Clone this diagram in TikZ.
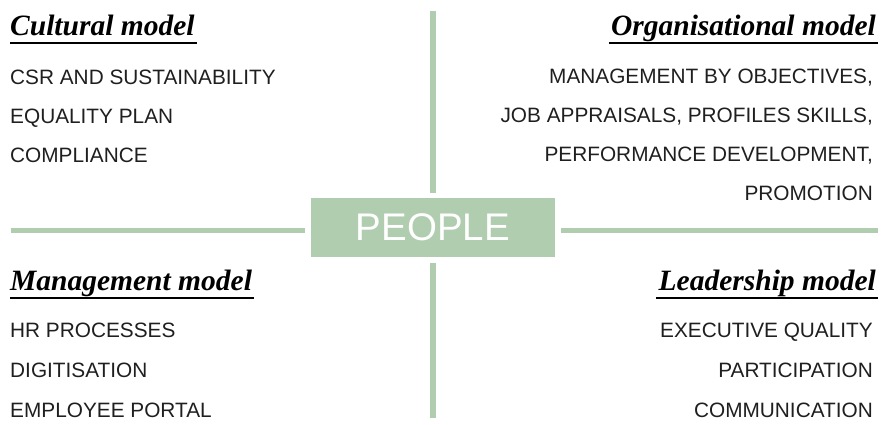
\documentclass[tikz,border=0pt]{standalone}
\usepackage{fontspec}
\setmainfont{Liberation Sans}
\newfontfamily\titlefont{Liberation Serif}
\usetikzlibrary{positioning}
\definecolor{sage}{HTML}{B0CDB0}

\begin{document}
\begin{tikzpicture}[x=1pt,y=-1pt,
  title/.style={inner sep=0pt,font=\titlefont\bfseries\itshape\fontsize{29.5}{29.5}\selectfont},
  item/.style={inner sep=0pt,text=black!88,font=\fontsize{20.8}{20.8}\selectfont},
  bar/.style={draw=sage,line width=5.5pt},
  uline/.style={draw=black,line width=1.6pt}]
\useasboundingbox (0,0) rectangle (885,424);

\node[fill=sage,minimum width=244pt,minimum height=59pt,inner sep=0pt,
  text=white,font=\fontsize{38.5}{38.5}\selectfont](people) at (433,227.5) {PEOPLE};

\coordinate (top) at (433,11);
\coordinate (bot) at (433,418);
\coordinate (left) at (11,230.5);
\coordinate (right) at (878,230.5);

\draw[bar,shorten >=5pt] (top) -- (people);
\draw[bar,shorten >=6pt] (bot) -- (people);
\draw[bar,shorten >=6pt] (left) -- (left -| people.west);
\draw[bar,shorten >=6pt] (right) -- (right -| people.east);

% cultural model
\node[title,anchor=base west](cult) at (10,35) {Cultural model};
\draw[uline] ([yshift=-8pt]cult.base west) -- ([yshift=-8pt,xshift=2pt]cult.base east);
\node[item,anchor=base west](c1) at (10,84) {CSR AND SUSTAINABILITY};
\node[item,anchor=base west](c2) at (10,123) {EQUALITY PLAN};
\node[item,anchor=base west](c3) at (10,162) {COMPLIANCE};

% organisational model
\node[title,anchor=base east](org) at (876,35) {Organisational model};
\draw[uline] ([yshift=-8pt,xshift=-2pt]org.base west) -- ([yshift=-8pt,xshift=2pt]org.base east);
\node[item,anchor=base east](o1) at (873,83) {MANAGEMENT BY OBJECTIVES,};
\node[item,anchor=base east](o2) at (873,122) {JOB APPRAISALS, PROFILES SKILLS,};
\node[item,anchor=base east](o3) at (873,161) {PERFORMANCE DEVELOPMENT,};
\node[item,anchor=base east](o4) at (873,200) {PROMOTION};

% management model
\node[title,anchor=base west](mgmt) at (10,290) {Management model};
\draw[uline] ([yshift=-8pt]mgmt.base west) -- ([yshift=-8pt,xshift=2pt]mgmt.base east);
\node[item,anchor=base west](m1) at (10,337) {HR PROCESSES};
\node[item,anchor=base west](m2) at (10,377) {DIGITISATION};
\node[item,anchor=base west](m3) at (10,417) {EMPLOYEE PORTAL};

% leadership model
\node[title,anchor=base east](lead) at (876,290) {Leadership model};
\draw[uline] ([yshift=-8pt,xshift=-2pt]lead.base west) -- ([yshift=-8pt,xshift=2pt]lead.base east);
\node[item,anchor=base east](l1) at (873,337) {EXECUTIVE QUALITY};
\node[item,anchor=base east](l2) at (873,377) {PARTICIPATION};
\node[item,anchor=base east](l3) at (873,417) {COMMUNICATION};
\end{tikzpicture}
\end{document}
